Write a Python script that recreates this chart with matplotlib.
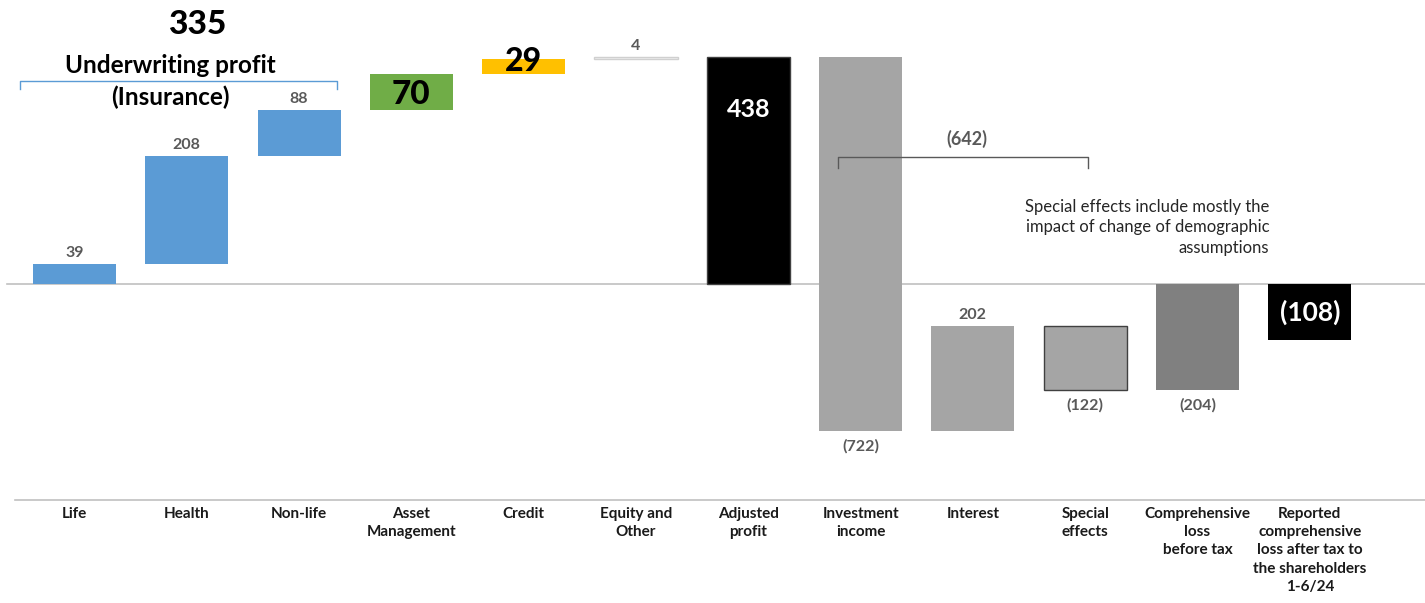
import numpy as np
import matplotlib.pyplot as plt

plt.rcParams['font.family'] = ['Lato', 'DejaVu Sans']

# categories and values (EUR m)
categories = ["Life", "Health", "Non-life", "Asset\nManagement", "Credit", "Equity and\nOther",
              "Adjusted\nprofit", "Investment\nincome", "Interest", "Special\neffects",
              "Comprehensive\nloss\nbefore tax",
              "Reported\ncomprehensive\nloss after tax to\nthe shareholders\n1-6/24"]
values = [39, 208, 88, 70, 29, 4, 438, -722, 202, -122, -204, -108]
is_total = [False, False, False, False, False, False, True, False, False, False, True, True]
value_labels = ["39", "208", "88", "70", "29", "4", "438", "(722)", "202", "(122)", "(204)", "(108)"]
underwriting_total = "335"
financial_total = "(642)"

colors = ["#5b9bd5", "#5b9bd5", "#5b9bd5", "#70ad47", "#ffc000", "#f2f2f2",
          "#000000", "#a5a5a5", "#a5a5a5", "#a5a5a5", "#808080", "#000000"]
edges = ["none", "none", "none", "none", "none", "#d0d0d0",
         "#404040", "none", "none", "#404040", "none", "none"]

# waterfall bottoms / heights
bottoms = []
heights = []
running = 0
for v, tot in zip(values, is_total):
    if tot:
        bottoms.append(0)
        heights.append(v)
        running = v
    else:
        bottoms.append(running)
        heights.append(v)
        running += v

x = np.arange(len(categories))

fig = plt.figure(figsize=(14.25, 6.03), dpi=100)
ax = fig.add_axes([0, 0, 1, 1])
ax.set_xlim(-0.663, 12.026)
ax.set_ylim(-616, 548)
ax.axis('off')

ax.bar(x, heights, bottom=bottoms, width=0.74, color=colors, edgecolor=edges, linewidth=1)

# baseline and bottom axis line
ax.plot([-0.6, 12.1], [0, 0], color="#c0c0c0", lw=1.2, zorder=0)
ax.plot([-0.53, 12.1], [-417, -417], color="#c0c0c0", lw=1.2, zorder=0)

# category labels
for i, c in enumerate(categories):
    ax.text(x[i], -430, c, ha='center', va='top', fontsize=11, fontweight='bold',
            color='#1a1a1a', linespacing=1.4)

# value labels
gray = "#595959"
for i, lab in enumerate(value_labels):
    top = max(bottoms[i], bottoms[i] + heights[i])
    low = min(bottoms[i], bottoms[i] + heights[i])
    if i in (0, 1, 2, 5, 8):
        ax.annotate(lab, (x[i], top), xytext=(0, 3), textcoords='offset points',
                    ha='center', va='bottom', fontsize=11.5, fontweight='bold', color=gray)
    elif i in (7, 9, 10):
        ax.annotate(lab, (x[i], low), xytext=(0, -6), textcoords='offset points',
                    ha='center', va='top', fontsize=11.5, fontweight='bold', color=gray)
    elif i == 3:
        ax.text(x[i], (top + low) / 2 - 4, lab, ha='center', va='center',
                fontsize=24, fontweight='black', color='black')
    elif i == 4:
        ax.text(x[i], (top + low) / 2 + 10, lab, ha='center', va='center',
                fontsize=23, fontweight='black', color='black')
    elif i == 6:
        ax.annotate(lab, (x[i], top), xytext=(0, -38), textcoords='offset points',
                    ha='center', va='center', fontsize=18, fontweight='bold', color='white')
    elif i == 11:
        ax.text(x[i], (top + low) / 2, lab, ha='center', va='center',
                fontsize=19, fontweight='bold', color='white')

# underwriting profit bracket
ax.plot([-0.485, -0.485, 2.337, 2.337], [376, 392, 392, 376], color="#5b9bd5", lw=1)
ax.text(1.09, 500, underwriting_total, ha='center', va='center', fontsize=24,
        fontweight='black', color='black')
ax.text(0.85, 421, "Underwriting profit", ha='center', va='center', fontsize=17.5,
        fontweight='bold', color='black')
ax.text(0.85, 361, "(Insurance)", ha='center', va='center', fontsize=17.5,
        fontweight='bold', color='black')

# investment result bracket
ax.plot([6.8, 6.8, 9.025, 9.025], [224, 245, 245, 224], color="#595959", lw=1)
ax.text(7.95, 280, financial_total, ha='center', va='center', fontsize=13,
        fontweight='bold', color=gray)

ax.text(10.64, 164, "Special effects include mostly the\nimpact of change of demographic\nassumptions",
        ha='right', va='top', fontsize=12, color='#262626', linespacing=1.35)

plt.savefig("out.png", dpi=100)
